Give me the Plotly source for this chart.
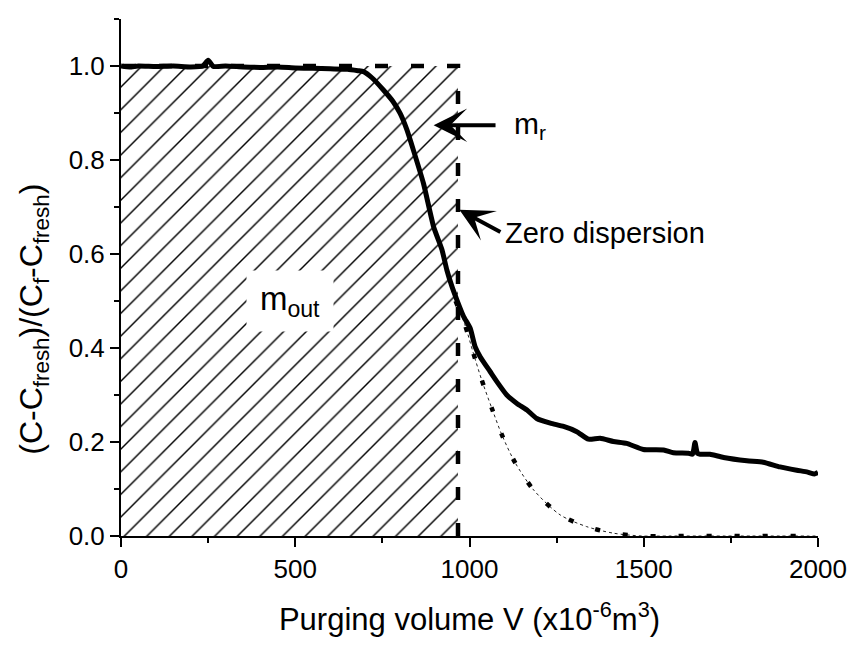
import plotly.graph_objects as go

# ---- data ----
V_main = [0, 25, 50, 100, 150, 200, 235, 250, 265, 300, 350, 400, 450, 500, 550, 600, 650,
          680, 696, 720, 753, 780, 801, 820, 839, 868, 897, 921, 935, 950, 964, 983, 1002,
          1016, 1031, 1059, 1079, 1107, 1136, 1165, 1193, 1232, 1270, 1308, 1341, 1375,
          1413, 1451, 1499, 1557, 1585, 1628, 1640, 1647, 1654, 1662, 1690, 1729, 1796,
          1843, 1891, 1939, 1970, 1990, 2000]
C_main = [1.0, 0.998, 1.0, 0.999, 1.0, 0.998, 1.0, 1.012, 0.999, 1.0, 0.998, 0.997, 0.998,
          0.996, 0.995, 0.994, 0.993, 0.99, 0.988, 0.975, 0.949, 0.925, 0.899, 0.865, 0.821,
          0.75, 0.658, 0.609, 0.566, 0.53, 0.502, 0.467, 0.442, 0.403, 0.381, 0.35, 0.328,
          0.30, 0.282, 0.268, 0.25, 0.24, 0.233, 0.222, 0.206, 0.208, 0.201, 0.197, 0.184,
          0.183, 0.177, 0.176, 0.174, 0.199, 0.176, 0.174, 0.174, 0.167, 0.160, 0.157, 0.147,
          0.140, 0.136, 0.132, 0.135]

V_model = [960, 987, 1011, 1035, 1064, 1093, 1131, 1184, 1260, 1336, 1413, 1494, 1573,
           1653, 1731, 1810, 1890, 1970, 2000]
C_model = [0.50, 0.449, 0.389, 0.332, 0.272, 0.215, 0.156, 0.098, 0.045, 0.02, 0.006, 0.0,
           0.0, 0.0, 0.0, 0.0, 0.0, 0.0, 0.0]

V_zero = 967          # zero-dispersion purge volume
C_level = [0.0, 1.0]  # normalized concentration bounds

x_ticks = [0, 500, 1000, 1500, 2000]
y_ticks = [0.0, 0.2, 0.4, 0.6, 0.8, 1.0]

FONT = "Liberation Sans, Arial, sans-serif"

fig = go.Figure()

# hatched m_out area
fig.add_trace(go.Scatter(
    x=[0, V_zero, V_zero, 0, 0],
    y=[C_level[0], C_level[0], C_level[1], C_level[1], C_level[0]],
    mode="lines", line=dict(width=0), fill="toself", fillcolor="white",
    fillpattern=dict(shape="/", size=16, solidity=0.09, fgcolor="black", fgopacity=1,
                     bgcolor="white", fillmode="replace"),
    hoverinfo="skip"))

# model curve: fine dotted line + sparse thick dashes
fig.add_trace(go.Scatter(x=V_model, y=C_model, mode="lines",
                         line=dict(color="#222", width=1, dash="dot", shape="spline", smoothing=0.8),
                         hoverinfo="skip"))
fig.add_trace(go.Scatter(x=V_model, y=C_model, mode="lines",
                         line=dict(color="black", width=4.5, dash="5px,23px", shape="spline", smoothing=0.8),
                         hoverinfo="skip"))

# zero-dispersion step (dashed)
fig.add_trace(go.Scatter(x=[V_zero, V_zero, 0], y=[C_level[0], C_level[1], C_level[1]],
                         mode="lines", line=dict(color="black", width=4.5, dash="13px,23px"),
                         hoverinfo="skip"))

# measured curve
fig.add_trace(go.Scatter(x=V_main, y=C_main, mode="lines",
                         line=dict(color="black", width=5, shape="spline", smoothing=0.5),
                         hoverinfo="skip"))

annotations = [
    dict(x=486, y=0.50, xref="x", yref="y", text="m<sub>out</sub>", showarrow=False,
         font=dict(size=33, family=FONT, color="black"), bgcolor="white", width=86, height=60,
         borderpad=0),
    dict(x=897, y=0.874, xref="x", yref="y", ax=1079, ay=0.874, axref="x", ayref="y",
         text="", showarrow=True, arrowhead=3, arrowsize=1.4, arrowwidth=4, arrowcolor="black"),
    dict(x=1122, y=0.874, xref="x", yref="y", text="m<sub>r</sub>", showarrow=False,
         xanchor="left", yanchor="middle", font=dict(size=30, family=FONT, color="black")),
    dict(x=971, y=0.694, xref="x", yref="y", ax=1093, ay=0.645, axref="x", ayref="y",
         text="", showarrow=True, arrowhead=3, arrowsize=1.4, arrowwidth=4, arrowcolor="black"),
    dict(x=1097, y=0.645, xref="x", yref="y", text="Zero dispersion", showarrow=False,
         xanchor="left", yanchor="middle", font=dict(size=29, family=FONT, color="black")),
    # y-axis title
    dict(x=-0.125, y=0.42, xref="paper", yref="paper", xanchor="center", yanchor="middle",
         text="(C-C<sub>fresh</sub>)/(C<sub>f</sub>-C<sub>fresh</sub>)", textangle=-90,
         showarrow=False, font=dict(size=32, family=FONT, color="black")),
]

fig.update_layout(
    width=859, height=653, margin=dict(l=121, r=41, t=19, b=117),
    plot_bgcolor="white", paper_bgcolor="white", showlegend=False,
    font=dict(family=FONT, color="black", size=26),
    annotations=annotations,
)
fig.update_xaxes(range=[0, 2000], tickvals=x_ticks, showline=True, linecolor="black", linewidth=2,
                 ticks="outside", ticklen=9, tickwidth=2, tickcolor="black",
                 minor=dict(ticks="outside", ticklen=5, tickwidth=2, dtick=250, tickcolor="black"),
                 showgrid=False, zeroline=False, automargin=False,
                 title=dict(text="Purging volume V (x10<sup>-6</sup>m<sup>3</sup>)",
                            font=dict(size=31), standoff=25))
fig.update_yaxes(range=[0, 1.1], tickvals=y_ticks, tickformat=".1f", showline=True,
                 linecolor="black", linewidth=2,
                 ticks="outside", ticklen=9, tickwidth=2, tickcolor="black",
                 minor=dict(ticks="outside", ticklen=5, tickwidth=2, dtick=0.1, tickcolor="black"),
                 showgrid=False, zeroline=False, automargin=False)

fig.write_html("out.html")
